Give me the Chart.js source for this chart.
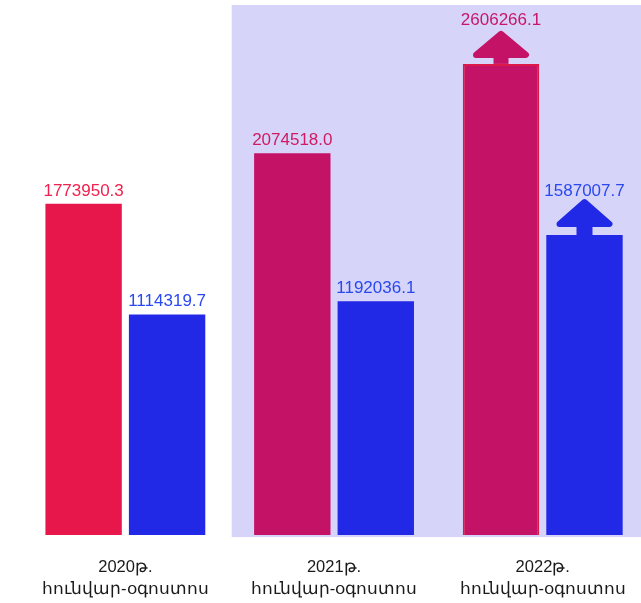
<!DOCTYPE html>
<html>
<head>
<meta charset="utf-8">
<script src="https://cdn.jsdelivr.net/npm/chart.js@4/dist/chart.umd.min.js"></script>
<style>
  html, body { margin: 0; padding: 0; background: #ffffff; overflow: hidden; }
  #wrap { position: absolute; left: 0; top: 0; width: 641px; height: 603px; overflow: hidden; }
</style>
</head>
<body>
<div id="wrap"><canvas id="c" width="648" height="625"></canvas></div>
<script>
const categories = [
  ['2020թ.', 'հունվար-օգոստոս'],
  ['2021թ.', 'հունվար-օգոստոս'],
  ['2022թ.', 'հունվար-օգոստոս']
];
const series1Values = [1773950.3, 2074518.0, 2606266.1];
const series2Values = [1114319.7, 1192036.1, 1587007.7];
const series1Labels = ['1773950.3', '2074518.0', '2606266.1'];
const series2Labels = ['1114319.7', '1192036.1', '1587007.7'];
const arrowFlags = [false, false, true];
const axisMin = -200000;
const axisMax = 2986866;

const series1Colors = ['#e8174b', '#c41266', '#c41266'];
const series1TextColors = ['#f0214e', '#d01b62', '#c8166a'];
const series2Color = '#2229e6';
const series2TextColor = '#2a48f0';

const highlightPlugin = {
  id: 'highlight',
  beforeDatasetsDraw(chart) {
    const { ctx, chartArea, scales } = chart;
    const left = (scales.x.getPixelForTick(0) + scales.x.getPixelForTick(1)) / 2 + 2;
    ctx.save();
    ctx.fillStyle = '#d6d4f8';
    ctx.fillRect(left, chartArea.top + 5, chart.width - left, chartArea.bottom + 2 - (chartArea.top + 5));
    ctx.restore();
  }
};

function drawArrow(ctx, cx, top, color, apexOff, baseOff, half, shaftHalf) {
  ctx.save();
  ctx.fillStyle = color;
  ctx.strokeStyle = color;
  ctx.lineJoin = 'round';
  ctx.lineWidth = 6;
  ctx.beginPath();
  ctx.moveTo(cx, top - apexOff + 3);
  ctx.lineTo(cx + half - 3, top - baseOff - 3);
  ctx.lineTo(cx - half + 3, top - baseOff - 3);
  ctx.closePath();
  ctx.fill();
  ctx.stroke();
  ctx.fillRect(cx - shaftHalf, top - baseOff - 1, shaftHalf * 2, baseOff + 1);
  ctx.restore();
}

const labelPlugin = {
  id: 'valueLabels',
  afterDatasetsDraw(chart) {
    const { ctx } = chart;
    ctx.save();
    ctx.font = '17px "Liberation Sans", Arial, sans-serif';
    ctx.textAlign = 'center';
    ctx.textBaseline = 'alphabetic';
    chart.data.datasets.forEach((ds, di) => {
      const meta = chart.getDatasetMeta(di);
      meta.data.forEach((bar, i) => {
        const color = di === 0 ? series1Colors[i] : series2Color;
        let off = 8;
        if (arrowFlags[i]) {
          if (di === 0) drawArrow(ctx, bar.x, bar.y, color, 33, 6, 28, 7.5);
          else drawArrow(ctx, bar.x, bar.y, color, 36, 8, 28, 8);
          off = 39;
        }
        ctx.fillStyle = di === 0 ? series1TextColors[i] : series2TextColor;
        const txt = di === 0 ? series1Labels[i] : series2Labels[i];
        ctx.fillText(txt, bar.x, bar.y - off);
      });
    });
    ctx.restore();
  }
};

new Chart(document.getElementById('c'), {
  type: 'bar',
  data: {
    labels: categories,
    datasets: [
      {
        data: series1Values,
        base: axisMin,
        backgroundColor: series1Colors,
        borderColor: ['#e8174b', '#c41266', '#dc1a4a'],
        borderWidth: [0, 0, 2],
        categoryPercentage: 0.8,
        barPercentage: 0.915
      },
      {
        data: series2Values,
        base: axisMin,
        backgroundColor: series2Color,
        borderWidth: 0,
        categoryPercentage: 0.8,
        barPercentage: 0.915
      }
    ]
  },
  options: {
    responsive: false,
    animation: false,
    layout: { padding: { left: 21, right: 0, top: 0, bottom: 3 } },
    plugins: { legend: { display: false }, tooltip: { enabled: false } },
    scales: {
      x: {
        grid: { display: false, drawTicks: false },
        border: { display: false },
        ticks: {
          color: '#1a1a1a',
          padding: 22,
          font: { family: '"Liberation Sans", "Noto Sans", Arial, sans-serif', size: 16.5, lineHeight: 1.3 }
        }
      },
      y: {
        display: false,
        min: axisMin,
        max: axisMax
      }
    }
  },
  plugins: [highlightPlugin, labelPlugin]
});
</script>
</body>
</html>
